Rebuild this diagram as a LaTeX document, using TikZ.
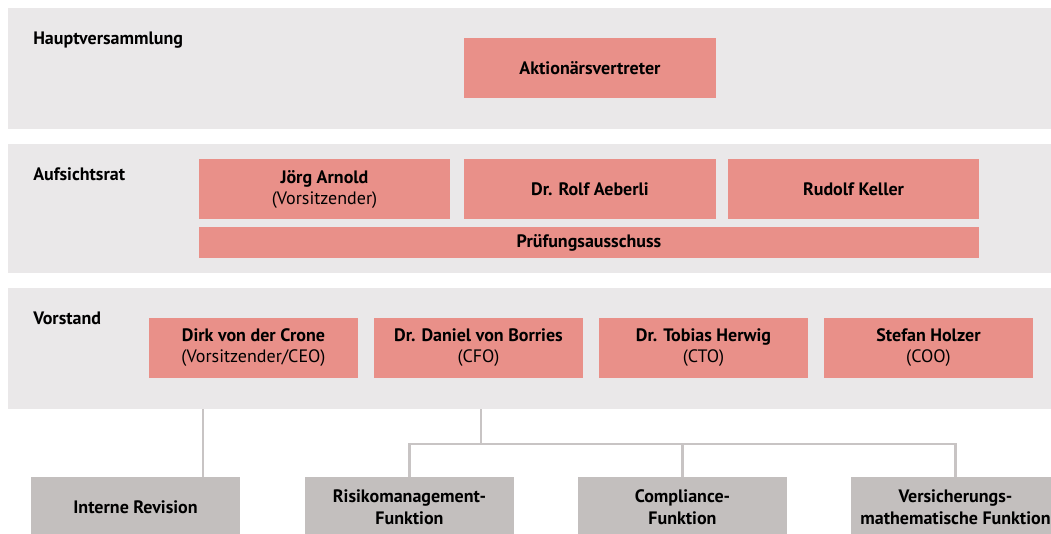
\documentclass[tikz,border=0pt]{standalone}
\usepackage{fontspec}
\setmainfont{PT Sans}

\definecolor{panelgrey}{HTML}{EAE8E9}
\definecolor{salmon}{HTML}{E99089}
\definecolor{boxgrey}{HTML}{C3BFBE}
\definecolor{linegrey}{HTML}{C8C4C4}

\tikzset{
	rowlabel/.style = {anchor=base west, inner sep=0pt, font=\bfseries\fontsize{13.5}{15}\selectfont},
	member/.style = {fill=salmon, inner sep=0pt, minimum height=45pt, align=center, font=\fontsize{13.5}{15.75}\selectfont},
	control/.style = {fill=boxgrey, inner sep=0pt, minimum width=156.75pt, minimum height=45pt, align=center, font=\bfseries\fontsize{13.5}{16.5}\selectfont},
	link/.style = {draw=linegrey, line width=1.8pt}
}

\begin{document}
\begin{tikzpicture}[x=0.75pt,y=-0.75pt]
	\useasboundingbox (0,0) rectangle (1051,533);
	
	% the three bands
	\fill[panelgrey] (8,8) rectangle (1060,129);
	\fill[panelgrey] (8,144) rectangle (1060,273);
	\fill[panelgrey] (8,288) rectangle (1060,409);
	
	\node[rowlabel] (hvlabel) at (33,44) {Hauptversammlung};
	\node[rowlabel] (arlabel) at (33,180) {Aufsichtsrat};
	\node[rowlabel] (vslabel) at (33,324) {Vorstand};
	
	% Hauptversammlung
	\node[member, minimum width=189pt] (aktionaere) at (590,68) {\textbf{Aktionärsvertreter}};
	
	% Aufsichtsrat
	\node[member, minimum width=188.25pt] (arnold) at (324.5,189) {\textbf{Jörg Arnold}\\(Vorsitzender)};
	\node[member, minimum width=189pt] (aeberli) at (590,189) {\textbf{Dr. Rolf Aeberli}};
	\node[member, minimum width=188.25pt] (keller) at (853.5,189) {\textbf{Rudolf Keller}};
	\node[member, minimum width=585pt, minimum height=23.25pt] (pruefung) at (589,242.5) {\textbf{Prüfungsausschuss}};
	
	% Vorstand
	\node[member, minimum width=156.75pt] (crone) at (253.5,348) {\textbf{Dirk von der Crone}\\(Vorsitzender/CEO)};
	\node[member, minimum width=156.75pt] (borries) at (478.5,348) {\textbf{Dr. Daniel von Borries}\\(CFO)};
	\node[member, minimum width=156.75pt] (herwig) at (703.5,348) {\textbf{Dr. Tobias Herwig}\\(CTO)};
	\node[member, minimum width=156.75pt] (holzer) at (928.5,348) {\textbf{Stefan Holzer}\\(COO)};
	
	% Schluesselfunktionen
	\node[control] (revision) at (135.5,507) {Interne Revision};
	\node[control] (risiko) at (409.5,507) {Risikomanagement-\\Funktion};
	\node[control] (compliance) at (682.5,507) {Compliance-\\Funktion};
	\node[control] (aktuar) at (955.5,507) {Versicherungs-\\mathematische Funktion};
	
	\coordinate (revtop) at (203,409);
	\coordinate (trunktop) at (481,409);
	\coordinate (fork) at (481,444);
	
	\draw[link] (revtop) -- (revtop |- revision.north);
	\draw[link] (trunktop) -- (fork);
	\draw[link] (risiko.north) -- (risiko.north |- fork) -- (aktuar.north |- fork) -- (aktuar.north);
	\draw[link] (compliance.north |- fork) -- (compliance.north);
	
\end{tikzpicture}
\end{document}
